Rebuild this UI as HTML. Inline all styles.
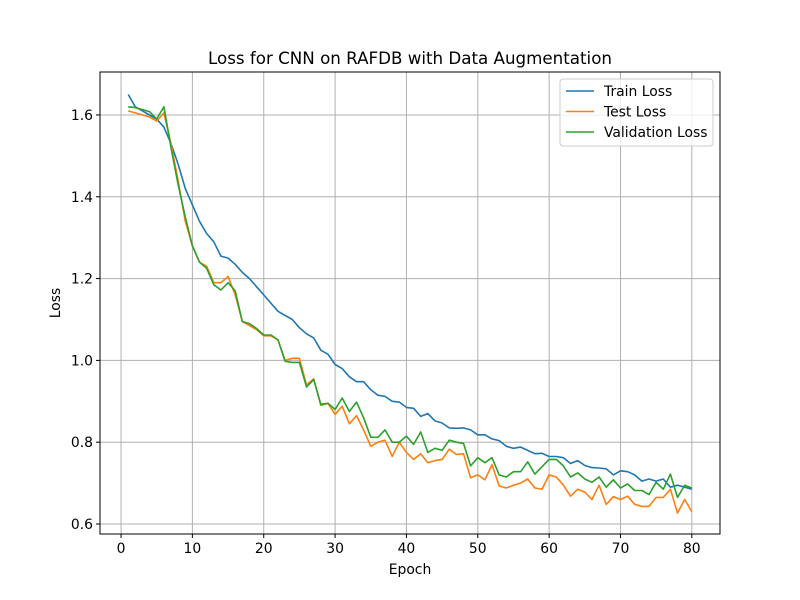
<!DOCTYPE html>
<html><head><meta charset="utf-8"><style>
body{margin:0;background:#fff;}
svg{display:block;font-family:"DejaVu Sans","Liberation Sans",sans-serif;}
</style></head><body>
<svg id="chart" width="800" height="600" viewBox="0 0 800 600" xmlns="http://www.w3.org/2000/svg">
<rect width="800" height="600" fill="#fff"/>
<text x="410" y="64" font-size="16.7" text-anchor="middle">Loss for CNN on RAFDB with Data Augmentation</text>
<g id="grid"></g>
<g id="series"></g>
<rect x="100" y="72" width="620" height="462" fill="none" stroke="#000" stroke-width="1"/>
<g id="ticks"></g>
<text x="410" y="574" font-size="13.9" text-anchor="middle">Epoch</text>
<text transform="translate(60,303) rotate(-90)" font-size="13.9" text-anchor="middle">Loss</text>
<g id="legend"></g>
</svg>
<script>
const trainLoss=[1.65,1.62,1.61,1.60,1.59,1.57,1.53,1.48,1.42,1.38,1.34,1.31,1.29,1.255,1.25,1.235,1.215,1.20,1.18,1.16,1.14,1.12,1.11,1.10,1.08,1.065,1.055,1.025,1.015,0.99,0.98,0.96,0.948,0.948,0.928,0.915,0.912,0.90,0.898,0.885,0.883,0.863,0.87,0.852,0.847,0.835,0.834,0.835,0.83,0.818,0.818,0.808,0.804,0.79,0.785,0.788,0.78,0.772,0.773,0.765,0.765,0.762,0.748,0.755,0.743,0.738,0.737,0.735,0.72,0.73,0.728,0.72,0.705,0.71,0.705,0.71,0.69,0.695,0.69,0.685];
const testLoss=[1.61,1.605,1.60,1.595,1.585,1.605,1.53,1.44,1.34,1.28,1.24,1.23,1.19,1.19,1.205,1.16,1.095,1.085,1.075,1.06,1.06,1.05,1.00,1.005,1.005,0.94,0.955,0.89,0.895,0.868,0.888,0.845,0.865,0.83,0.79,0.80,0.805,0.765,0.80,0.775,0.758,0.772,0.75,0.755,0.758,0.783,0.77,0.772,0.713,0.72,0.708,0.745,0.693,0.688,0.695,0.70,0.71,0.688,0.685,0.72,0.715,0.695,0.668,0.685,0.678,0.66,0.695,0.648,0.667,0.66,0.668,0.648,0.643,0.643,0.665,0.665,0.685,0.627,0.66,0.63];
const valLoss=[1.62,1.618,1.613,1.608,1.59,1.62,1.52,1.43,1.35,1.28,1.24,1.225,1.185,1.172,1.19,1.17,1.095,1.09,1.078,1.062,1.062,1.05,0.998,0.995,0.995,0.935,0.953,0.893,0.895,0.88,0.908,0.875,0.898,0.86,0.812,0.812,0.83,0.80,0.80,0.815,0.795,0.825,0.775,0.785,0.78,0.805,0.80,0.797,0.742,0.762,0.75,0.762,0.72,0.715,0.728,0.728,0.752,0.722,0.74,0.758,0.758,0.742,0.715,0.725,0.71,0.702,0.715,0.69,0.708,0.688,0.698,0.682,0.682,0.672,0.702,0.685,0.722,0.665,0.695,0.688];
const xTicks=[0,10,20,30,40,50,60,70,80];
const yTicks=[0.6,0.8,1.0,1.2,1.4,1.6];
const seriesNames=["Train Loss","Test Loss","Validation Loss"];
const colors=["#1f77b4","#ff7f0e","#2ca02c"];
const NS="http://www.w3.org/2000/svg";
const L=100,R=720,T=72,B=534,x0=-2.95,x1=83.95,y0=0.5756,y1=1.705;
const sx=v=>L+(v-x0)/(x1-x0)*(R-L);
const sy=v=>B-(v-y0)/(y1-y0)*(B-T);
function mk(tag,attrs,parent){const e=document.createElementNS(NS,tag);for(const k in attrs)e.setAttribute(k,attrs[k]);parent.appendChild(e);return e;}
const grid=document.getElementById('grid'),ticks=document.getElementById('ticks');
xTicks.forEach(t=>{const x=sx(t);
 const g=mk('line',{x1:x,x2:x,y1:T,y2:B,stroke:'#b0b0b0','stroke-width':1},grid);
 
 const tk=mk('line',{x1:x,x2:x,y1:B,y2:B+4,stroke:'#000'},ticks);
 
 const tx=mk('text',{x:x,y:B+19,'font-size':13.9,'text-anchor':'middle'},ticks);tx.textContent=t;
 });
yTicks.forEach(t=>{const y=sy(t);
 const g=mk('line',{x1:L,x2:R,y1:y,y2:y,stroke:'#b0b0b0','stroke-width':1},grid);
 
 const tk=mk('line',{x1:L-4,x2:L,y1:y,y2:y,stroke:'#000'},ticks);
 
 const tx=mk('text',{x:L-7,y:y+5,'font-size':13.9,'text-anchor':'end'},ticks);tx.textContent=t.toFixed(1);
 });
const ser=document.getElementById('series');
[trainLoss,testLoss,valLoss].forEach((arr,i)=>{
 const pts=arr.map((v,j)=>sx(j+1).toFixed(1)+','+sy(v).toFixed(1)).join(' ');
 const p=mk('polyline',{points:pts,fill:'none',stroke:colors[i],'stroke-width':1.6,'stroke-linejoin':'round'},ser);
 
 });
const lg=document.getElementById('legend');
const box=mk('rect',{x:560,y:79,width:153,height:67,rx:3,fill:'#fff','fill-opacity':0.8,stroke:'#ccc'},lg);

seriesNames.forEach((n,i)=>{const y=91+i*20.5;
 const l=mk('line',{x1:566,x2:594,y1:y,y2:y,stroke:colors[i],'stroke-width':1.6},lg);
 
 const t=mk('text',{x:604,y:y+5,'font-size':13.9},lg);t.textContent=n;
 });
</script>
</body></html>
